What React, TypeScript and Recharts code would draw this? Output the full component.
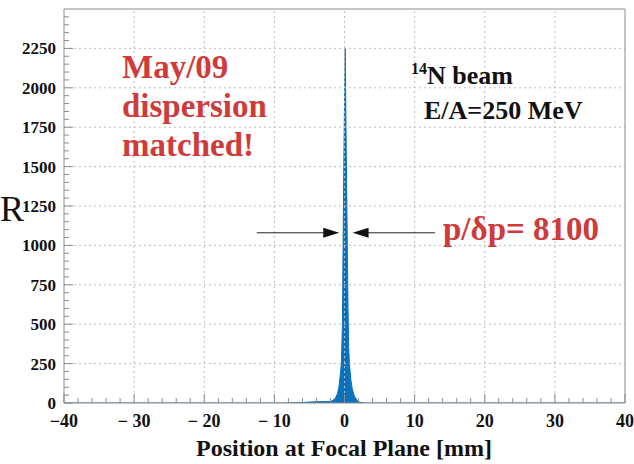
import { AreaChart, Area, XAxis, YAxis, ReferenceLine, ReferenceDot } from "recharts";

// histogram of the focal plane position (mm) vs counts
const positions = [
  -40, -8, -6, -5, -4, -3, -2.4, -1.8, -1.3, -1.0, -0.8, -0.6, -0.45, -0.3, -0.2, -0.1, 0, 0.1,
  0.2, 0.3, 0.4, 0.5, 0.6, 0.7, 0.9, 1.1, 1.4, 1.8, 2.2, 2.8, 40,
];
const counts = [
  0, 0, 3, 6, 8, 10, 9, 12, 30, 60, 100, 180, 250, 500, 1000, 1500, 1900, 2250, 1800, 1400, 1000,
  600, 350, 250, 150, 90, 45, 15, 5, 0, 0,
];

const xMajorTicks = [-40, -30, -20, -10, 0, 10, 20, 30, 40];
const xTickLabels = ["\u221240", "\u2212 30", "\u2212 20", "\u2212 10", "0", "10", "20", "30", "40"];
const yMajorTicks = [0, 250, 500, 750, 1000, 1250, 1500, 1750, 2000, 2250];
const yTickLabels = ["0", "250", "500", "750", "1000", "1250", "1500", "1750", "2000", "2250"];

const xAllTicks = Array.from({ length: 41 }, (_, i) => -40 + i * 2);
const yAllTicks = Array.from({ length: 50 }, (_, i) => i * 50);

// arrows marking the width of the peak
const arrowLevel = 1080;
const leftArrow = [-12.5, -0.75];
const rightArrow = [12.9, 1.15];

const data = positions.map((x, i) => ({ x, n: counts[i] }));

const serif = "'Liberation Serif', 'Times New Roman', serif";
const axisColor = "#8a8a8a";
const red = "#cf3b3b";

const XTick = (props: any) => {
  const { x, y, payload } = props;
  const idx = xMajorTicks.indexOf(payload.value);
  const major = idx >= 0;
  return (
    <g>
      <line x1={x} x2={x} y1={y} y2={y - (major ? 9 : 5)} stroke={axisColor} />
      {major && (
        <text x={x} y={y + 24} textAnchor="middle" fontFamily={serif} fontWeight="bold" fontSize={18} fill="#111">
          {xTickLabels[idx]}
        </text>
      )}
    </g>
  );
};

const YTick = (props: any) => {
  const { x, y, payload } = props;
  const idx = yMajorTicks.indexOf(payload.value);
  const major = idx >= 0;
  return (
    <g>
      <line x1={x} x2={x + (major ? 9 : 5)} y1={y} y2={y} stroke={axisColor} />
      {major && (
        <text x={x - 8} y={y + 6} textAnchor="end" fontFamily={serif} fontWeight="bold" fontSize={17} fill="#111">
          {yTickLabels[idx]}
        </text>
      )}
    </g>
  );
};

const headRight = (p: any) => (
  <polygon points={`${p.cx},${p.cy} ${p.cx - 16},${p.cy - 5} ${p.cx - 16},${p.cy + 5}`} fill="#111" />
);
const headLeft = (p: any) => (
  <polygon points={`${p.cx},${p.cy} ${p.cx + 16},${p.cy - 5} ${p.cx + 16},${p.cy + 5}`} fill="#111" />
);

export default function App() {
  return (
    <div style={{ position: "absolute", left: 0, top: 0, width: 634, height: 464, background: "#fff" }}>
      <AreaChart width={634} height={464} data={data} margin={{ top: 9, right: 9, left: 0, bottom: 0 }}>
        {xMajorTicks.slice(1, -1).map((v) => (
          <ReferenceLine key={"gx" + v} x={v} stroke="#bdbdbd" strokeDasharray="2 3" />
        ))}
        {yMajorTicks.slice(1).map((v) => (
          <ReferenceLine key={"gy" + v} y={v} stroke="#bdbdbd" strokeDasharray="2 3" />
        ))}
        <ReferenceLine y={2500} stroke={axisColor} />
        <ReferenceLine x={40} stroke={axisColor} />
        <XAxis
          dataKey="x"
          type="number"
          domain={[-40, 40]}
          ticks={xAllTicks}
          interval={0}
          tickSize={0}
          tickMargin={0}
          tickLine={false}
          tick={<XTick />}
          height={61}
          axisLine={{ stroke: axisColor }}
          allowDataOverflow
        />
        <YAxis
          type="number"
          domain={[0, 2500]}
          ticks={yAllTicks}
          interval={0}
          tickSize={0}
          tickMargin={0}
          tickLine={false}
          tick={<YTick />}
          width={64}
          axisLine={{ stroke: axisColor }}
          allowDataOverflow
        />
        <Area
          type="linear"
          dataKey="n"
          stroke="#0a72bd"
          strokeWidth={1}
          fill="#0a72bd"
          fillOpacity={1}
          isAnimationActive={false}
        />
        <ReferenceLine
          segment={[
            { x: leftArrow[0], y: arrowLevel },
            { x: leftArrow[1] - 2, y: arrowLevel },
          ]}
          stroke="#222"
        />
        <ReferenceLine
          segment={[
            { x: rightArrow[0], y: arrowLevel },
            { x: rightArrow[1] + 2, y: arrowLevel },
          ]}
          stroke="#222"
        />
        <ReferenceDot x={leftArrow[1]} y={arrowLevel} shape={headRight} />
        <ReferenceDot x={rightArrow[1]} y={arrowLevel} shape={headLeft} />
      </AreaChart>
      <svg width={634} height={464} style={{ position: "absolute", left: 0, top: 0, pointerEvents: "none" }}>
        <text x={0} y={221} fontFamily={serif} fontSize={36} fill="#111">
          R
        </text>
        <g fontFamily={serif} fontWeight="bold" fontSize={33} fill={red}>
          <text x={122} y={78}>May/09</text>
          <text x={122} y={117}>dispersion</text>
          <text x={122} y={156}>matched!</text>
          <text x={443} y={240}>p/δp= 8100</text>
        </g>
        <g fontFamily={serif} fontWeight="bold" fill="#111">
          <text x={411} y={84} fontSize={26}>
            <tspan fontSize={16} dy={-10}>14</tspan>
            <tspan dy={10}>N beam</tspan>
          </text>
          <text x={424} y={119} fontSize={26}>
            E/A=250 MeV
          </text>
        </g>
        <text x={344} y={456} textAnchor="middle" fontFamily={serif} fontWeight="bold" fontSize={24} fill="#111">
          Position at Focal Plane [mm]
        </text>
      </svg>
    </div>
  );
}
